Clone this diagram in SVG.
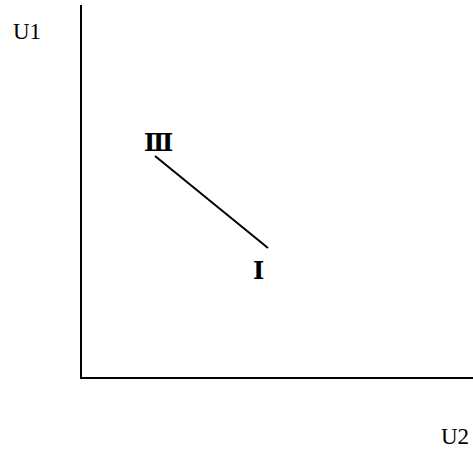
<svg xmlns="http://www.w3.org/2000/svg" width="473" height="456" viewBox="0 0 473 456">
<style>
text{font-family:"Liberation Serif","DejaVu Serif",serif;font-size:23px;fill:#000}
.ax{stroke:#000;stroke-width:2;fill:none}
.rn{font-size:24px;font-weight:bold}
</style>
<rect width="473" height="456" fill="#fff"/>
<g id="axes">
<path class="ax" d="M81,5 V378 H473"/>
</g>
<g id="connectors">
<line x1="155" y1="156" x2="268" y2="248" stroke="#000" stroke-width="2"/>
</g>
<g id="label-u1"><text x="13" y="39">U1</text></g>
<g id="label-u2"><text x="441" y="444">U2</text></g>
<g id="node-iii"><text class="rn" x="144" y="151">Ⅲ</text></g>
<g id="node-i"><text class="rn" x="253" y="279">Ⅰ</text></g>
</svg>
